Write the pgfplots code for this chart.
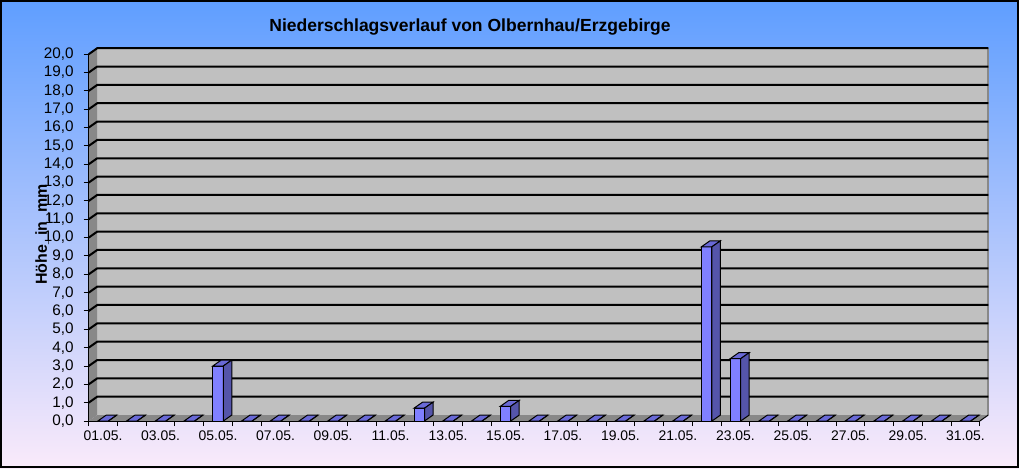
\documentclass[border=0pt]{standalone}
\usepackage{pgfplots}
\usepackage{pgfplotstable}
\pgfplotsset{compat=1.18}
\usepackage{fontspec}
\setmainfont{Liberation Sans}
\definecolor{bgtop}{RGB}{95,158,255}
\definecolor{bgbot}{RGB}{250,234,250}
\definecolor{wall}{RGB}{192,192,192}
\definecolor{sidewall}{RGB}{136,136,136}
\definecolor{barfront}{RGB}{128,128,255}
\definecolor{bartop}{RGB}{105,105,214}
\definecolor{barside}{RGB}{85,85,170}
\pgfplotstableread{
x v
1 0
2 0
3 0
4 0
5 3.0
6 0
7 0
8 0
9 0
10 0
11 0
12 0.7
13 0
14 0
15 0.8
16 0
17 0
18 0
19 0
20 0
21 0
22 9.5
23 3.4
24 0
25 0
26 0
27 0
28 0
29 0
30 0
31 0
}\data
\newcommand\barh{0}
\pgfdeclareplotmark{bar3d}{%
  \pgfmathsetlengthmacro\hh{\barh*13.7625bp}%
  \pgfsetlinewidth{0.75bp}%
  \pgfsetstrokecolor{black}%
  \pgfsetfillcolor{bartop}%
  \pgfpathmoveto{\pgfpoint{-3.9375bp}{0bp}}%
  \pgfpathlineto{\pgfpoint{3.9375bp}{0bp}}%
  \pgfpathlineto{\pgfpoint{10.3125bp}{4.5bp}}%
  \pgfpathlineto{\pgfpoint{2.4375bp}{4.5bp}}%
  \pgfpathclose
  \pgfusepath{fill,stroke}%
  \pgfsetfillcolor{barside}%
  \pgfpathmoveto{\pgfpoint{3.9375bp}{0bp}}%
  \pgfpathlineto{\pgfpoint{10.3125bp}{4.5bp}}%
  \pgfpathlineto{\pgfpoint{10.3125bp}{4.5bp-\hh}}%
  \pgfpathlineto{\pgfpoint{3.9375bp}{-\hh}}%
  \pgfpathclose
  \pgfusepath{fill,stroke}%
}
\begin{document}
\begin{tikzpicture}[x=0.75bp,y=0.75bp]
\shade[top color=bgtop, bottom color=bgbot] (0,0) rectangle (1019,468);
\draw[black, line width=1.5bp] (0.75,0.75) rectangle (1018.25,467.25);
\node[anchor=base, font=\fontsize{13.2}{15}\selectfont\bfseries] at (470,436.5) {Niederschlagsverlauf von Olbernhau/Erzgebirge};
\begin{axis}[
  at={(66.375bp,35.25bp)}, anchor=south west,
  scale only axis, width=668.625bp, height=275.25bp,
  xmin=0.5, xmax=31.5, ymin=0, ymax=20,
  clip=false, axis on top,
  axis x line*=bottom, axis y line*=left,
  axis line style={black, line width=0.75bp, -},
  tick align=outside,
  major tick length=3.75bp, minor tick length=3.75bp,
  ytick={0,1,...,20},
  xtick={1,3,...,31},
  xticklabels={01.05.,03.05.,05.05.,07.05.,09.05.,11.05.,13.05.,15.05.,17.05.,19.05.,21.05.,23.05.,25.05.,27.05.,29.05.,31.05.},
  minor xtick={0.5,1.5,...,31.5},
  major x tick style={draw=none},
  minor x tick style={black, line width=0.75bp},
  major y tick style={black, line width=0.75bp},
  yticklabel style={font=\fontsize{11.5}{13}\selectfont, xshift=-4bp},
  xticklabel style={font=\fontsize{10.5}{12}\selectfont},
  /pgf/number format/.cd, fixed, fixed zerofill, precision=1, use comma, assume math mode=true,
]
% back wall
\fill[wall] ([shift={(6.375bp,4.5bp)}]axis cs:0.5,0) rectangle ([shift={(6.375bp,4.5bp)}]axis cs:31.5,20);
\draw[sidewall, line width=1.2bp] ([shift={(6.375bp,4.5bp)}]axis cs:31.5,0) -- ([shift={(6.375bp,4.5bp)}]axis cs:31.5,20);
% left wall
\fill[sidewall] (axis cs:0.5,0) -- (axis cs:0.5,20) -- ([shift={(6.375bp,4.5bp)}]axis cs:0.5,20) -- ([shift={(6.375bp,4.5bp)}]axis cs:0.5,0) -- cycle;
% floor
\fill[sidewall] (axis cs:0.5,0) -- (axis cs:31.5,0) -- ([shift={(6.375bp,4.5bp)}]axis cs:31.5,0) -- ([shift={(6.375bp,4.5bp)}]axis cs:0.5,0) -- cycle;
\draw[black, line width=0.75bp] (axis cs:31.5,0) -- ([shift={(6.375bp,4.5bp)}]axis cs:31.5,0);
% grid lines
\pgfplotsinvokeforeach{1,...,20}{
  \draw[black, line width=1.5bp] (axis cs:0.5,#1) -- ([shift={(6.375bp,4.5bp)}]axis cs:0.5,#1) -- ([shift={(6.375bp,4.5bp)}]axis cs:31.5,#1);
}
% bars
\addplot[ybar, bar width=7.875bp, fill=barfront, draw=black, line width=0.75bp] table[x=x,y=v] {\data};
\addplot[only marks, mark=bar3d, visualization depends on={\thisrow{v} \as \barh}] table[x=x,y=v] {\data};
\end{axis}
\node[anchor=base, rotate=90, font=\fontsize{12}{14}\selectfont\bfseries] at (46.7,233.5) {Höhe\_in\_mm};
\end{tikzpicture}
\end{document}
